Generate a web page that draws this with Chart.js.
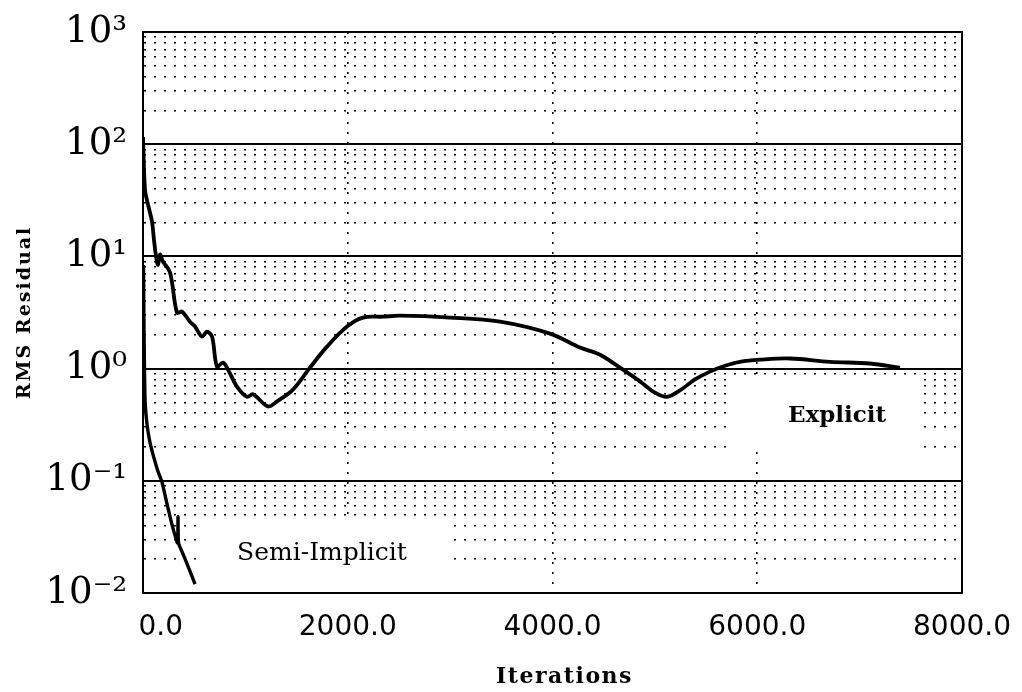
<!DOCTYPE html>
<html>
<head>
<meta charset="utf-8">
<script src="https://cdn.jsdelivr.net/npm/chart.js@4/dist/chart.umd.min.js"></script>
<style>
html,body{margin:0;padding:0;background:#fff;}
#wrap{width:1022px;height:692px;position:relative;}
</style>
</head>
<body>
<div id="wrap"><canvas id="c" width="1022" height="692"></canvas></div>
<script>
// ---- data ----
const explicitX = [0,20,49,88,107,127,147,166,195,264,332,381,459,508,576,625,674,723,781,830,918,1016,1074,1221,1309,1465,1631,1797,1993,2149,2344,2510,2999,3487,3975,4268,4464,4659,4854,5001,5118,5245,5392,5538,5685,5831,6027,6320,6710,7101,7394];
const explicitY = [116,39,29,20.4,14.1,10.1,8.4,10.4,9.0,7.2,3.15,3.22,2.62,2.37,1.93,2.13,1.93,1.04,1.13,0.98,0.69,0.56,0.59,0.46,0.51,0.65,1.02,1.57,2.37,2.85,2.9,2.96,2.85,2.62,2.05,1.54,1.33,1.02,0.77,0.61,0.56,0.64,0.80,0.94,1.06,1.15,1.2,1.23,1.15,1.11,1.02];
const semiX = [5,10,20,39,68,107,147,186,225,264,303,337,342,347,381,440,508];
const semiY = [8.4,2.2,0.53,0.32,0.22,0.16,0.121,0.097,0.068,0.048,0.035,0.028,0.048,0.028,0.0234,0.0173,0.012];

const xTickValues = [0,2000,4000,6000,8000];
const xTickLabels = ['0.0','2000.0','4000.0','6000.0','8000.0'];
const yMajorValues = [0.01,0.1,1,10,100,1000];
const yTickLabels = ['10\u207B\u00B2','10\u207B\u00B9','10\u2070','10\u00B9','10\u00B2','10\u00B3'];
const yMinorMultipliers = [2,3,4,5,6,7,8,9];
const xTitle = 'Iterations';
const yTitle = 'RMS Residual';

const annotations = [
  {text:'Explicit', x:6779, y:0.38, font:'bold 23px "DejaVu Serif"', box:[5763,7570,0.85,0.19]},
  {text:'Semi-Implicit', x:1748, y:0.0225, font:'25px "DejaVu Serif"', box:[586,3028,0.047,0.01]}
];

const toXY = (xs, ys) => xs.map((x,i)=>({x:x, y:ys[i]}));

const yTicks = [];
yMajorValues.forEach((v,i)=>{
  yTicks.push({value:v, major:true});
  if (i < yMajorValues.length-1) yMinorMultipliers.forEach(m=>yTicks.push({value:+(v*m).toPrecision(3), major:false}));
});
yTicks.sort((a,b)=>a.value-b.value);

const DOT = [2,8];

const framePlugin = {
  id:'frame',
  beforeDatasetsDraw(chart){
    const {ctx, chartArea:a, scales:{x,y}} = chart;
    ctx.save();
    ctx.fillStyle = '#fff';
    annotations.forEach(an=>{
      const x1=x.getPixelForValue(an.box[0]), x2=x.getPixelForValue(an.box[1]);
      const y1=y.getPixelForValue(an.box[2]), y2=y.getPixelForValue(an.box[3]);
      ctx.fillRect(x1,y1,x2-x1,y2-y1);
    });
    ctx.strokeStyle='#000'; ctx.lineWidth=2;
    ctx.strokeRect(a.left,a.top,a.right-a.left,a.bottom-a.top);
    ctx.restore();
  },
  afterDatasetsDraw(chart){
    const {ctx, chartArea:a, scales:{x,y}} = chart;
    ctx.save();
    ctx.fillStyle='#000'; ctx.textAlign='center'; ctx.textBaseline='middle';
    annotations.forEach(an=>{
      ctx.font = an.font;
      ctx.fillText(an.text, x.getPixelForValue(an.x), y.getPixelForValue(an.y));
    });
    // axis titles
    ctx.letterSpacing = '1.5px';
    ctx.font = 'bold 22px "DejaVu Serif"';
    ctx.fillText(xTitle, (a.left+a.right)/2 + 12, 677);
    ctx.save();
    ctx.translate(25, (a.top+a.bottom)/2);
    ctx.rotate(-Math.PI/2);
    ctx.letterSpacing = '2px';
    ctx.font = 'bold 19px "DejaVu Serif"';
    ctx.fillText(yTitle, 0, 0);
    ctx.restore();
    ctx.restore();
  }
};

new Chart(document.getElementById('c'), {
  type:'line',
  data:{
    datasets:[
      {label:'Explicit', data:toXY(explicitX, explicitY), borderColor:'#000', borderWidth:3.8, pointRadius:0, tension:0.35, fill:false},
      {label:'Semi-Implicit', data:toXY(semiX, semiY), borderColor:'#000', borderWidth:3.4, pointRadius:0, tension:0.2, fill:false}
    ]
  },
  options:{
    responsive:false, animation:false, devicePixelRatio:1,
    layout:{padding:{top:32,right:60,left:0,bottom:0}},
    plugins:{legend:{display:false}, tooltip:{enabled:false}},
    scales:{
      x:{
        type:'linear', min:0, max:8000,
        afterBuildTicks:(s)=>{ s.ticks = xTickValues.map(v=>({value:v})); },
        afterFit:(s)=>{ s.height = 99; s.paddingLeft = 0; s.paddingRight = 0; },
        ticks:{
          autoSkip:false, maxRotation:0, padding:18, color:'#000',
          font:{family:'"DejaVu Sans"', size:28},
          callback:(v,i)=>{ const l = xTickLabels[xTickValues.indexOf(v)]; return i===0 ? '\u2007\u2007'+l : l; }
        },
        grid:{
          drawTicks:false,
          color:(c)=> (c.tick && c.tick.value===0) ? 'rgba(0,0,0,0)' : '#000',
          lineWidth:(c)=> (c.tick && c.tick.value===8000) ? 2 : 1.6
        },
        border:{display:true, color:'#000', width:2, dash:(c)=> (c.tick && c.tick.value!==8000) ? DOT : []},
        title:{display:false}
      },
      y:{
        type:'logarithmic', min:0.01, max:1000,
        afterBuildTicks:(s)=>{ s.ticks = yTicks.map(t=>({value:t.value, major:t.major})); },
        afterFit:(s)=>{ s.width = 143; s.paddingTop = 0; s.paddingBottom = 0; },
        ticks:{
          autoSkip:false, padding:16, color:'#000',
          font:{family:'"DejaVu Serif"', size:37},
          callback:(v)=>{ const i = yMajorValues.findIndex(m=>Math.abs(m-v)/m<1e-6); return i>=0 ? yTickLabels[i] : ''; }
        },
        grid:{
          drawTicks:false,
          color:'#000',
          lineWidth:(c)=> (c.tick && c.tick.major) ? 2 : 1.6
        },
        border:{display:true, color:'#000', width:2, dash:(c)=> (c.tick && !c.tick.major) ? DOT : []},
        title:{display:false}
      }
    }
  },
  plugins:[framePlugin]
});
</script>
</body>
</html>
